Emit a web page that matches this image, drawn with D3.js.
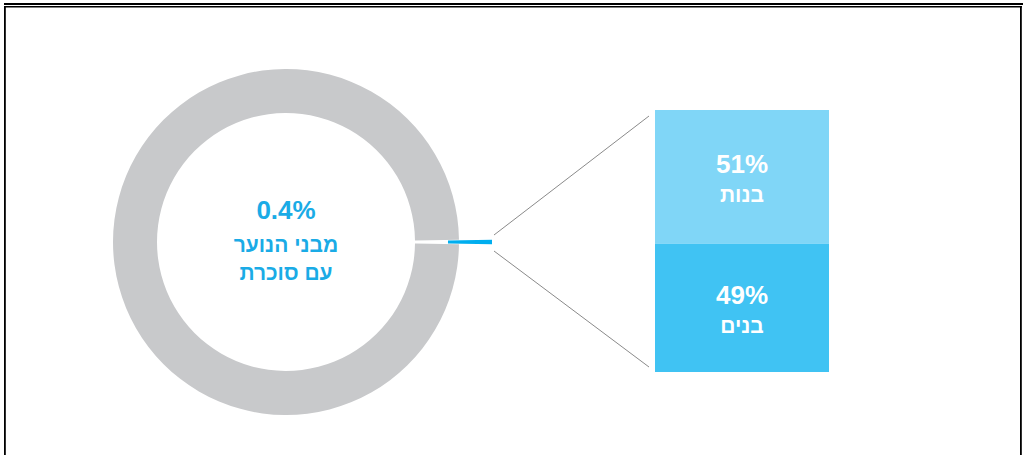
<!DOCTYPE html>
<html>
<head>
<meta charset="utf-8">
<script src="https://cdn.jsdelivr.net/npm/d3@7"></script>
<style>
  html, body { margin: 0; padding: 0; background: #fff; }
  svg { display: block; }
  text { font-family: "Liberation Sans", Arial, sans-serif; font-weight: bold; }
</style>
</head>
<body>
<svg id="chart" width="1023" height="455"></svg>
<script>
// ---- data ----
const donutCategories = ["עם סוכרת", "ללא סוכרת"];
const donutValues = [0.4, 99.6];
const centerLines = ["0.4%", "מבני הנוער", "עם סוכרת"];

const barCategories = ["בנות", "בנים"];
const barValues = [51, 49];
const barLabels = ["51%", "49%"];

// ---- layout ----
const svg = d3.select("#chart");
const W = 1023, H = 455;

// frame
svg.append("rect").attr("x", 4).attr("y", 3).attr("width", W - 4).attr("height", 2).attr("fill", "#000");
svg.append("rect").attr("x", 4).attr("y", 6).attr("width", 1018 - 0).attr("height", 1.5).attr("fill", "#000");
svg.append("rect").attr("x", 4).attr("y", 6).attr("width", 1.8).attr("height", H - 6).attr("fill", "#000");
svg.append("rect").attr("x", 1020).attr("y", 6).attr("width", 1.8).attr("height", H - 6).attr("fill", "#000");

// donut
const cx = 286, cy = 242, outerR = 173, innerR = 129, explode = 33;
const total = d3.sum(donutValues);
const half = Math.PI * 2 * donutValues[0] / total / 2;
const pie = d3.pie().sort(null).value(d => d)
  .startAngle(Math.PI / 2 - half).endAngle(Math.PI / 2 - half + Math.PI * 2);
const arcs = pie(donutValues);
const arc = d3.arc().innerRadius(innerR).outerRadius(outerR);
const colors = ["#00AEEF", "#C8C9CB"];

const g = svg.append("g").attr("transform", `translate(${cx},${cy})`);
g.selectAll("path").data(arcs).join("path")
  .attr("d", arc)
  .attr("fill", (d, i) => colors[i])
  .attr("transform", (d, i) => {
    if (i !== 0) return null;
    const a = (d.startAngle + d.endAngle) / 2;
    return `translate(${Math.sin(a) * explode},${-Math.cos(a) * explode})`;
  });

// center text
const centerText = g.append("g").attr("fill", "#1AABE6").attr("text-anchor", "middle");
centerText.append("text").attr("y", -23).attr("font-size", 26).text(centerLines[0]);
centerText.append("text").attr("y", 10).attr("font-size", 21).attr("direction", "rtl").attr("unicode-bidi", "embed").text(centerLines[1]);
centerText.append("text").attr("y", 38).attr("font-size", 21).attr("direction", "rtl").attr("unicode-bidi", "embed").text(centerLines[2]);

// stacked bar
const barX = 655, barW = 174, barTop = 110, barBottom = 372;
const y = d3.scaleLinear().domain([0, d3.sum(barValues)]).range([barTop, barBottom]);
const stacked = [];
let acc = 0;
barValues.forEach((v, i) => { stacked.push({ cat: barCategories[i], label: barLabels[i], v, y0: acc, y1: acc + v }); acc += v; });
const barColors = ["#80D6F7", "#40C3F3"];

const bars = svg.append("g");
bars.selectAll("rect").data(stacked).join("rect")
  .attr("x", barX).attr("width", barW)
  .attr("y", d => y(d.y0)).attr("height", d => y(d.y1) - y(d.y0))
  .attr("fill", (d, i) => barColors[i]);

const labels = bars.selectAll("g.lbl").data(stacked).join("g").attr("class", "lbl")
  .attr("transform", d => `translate(${barX + barW / 2},${(y(d.y0) + y(d.y1)) / 2})`)
  .attr("fill", "#fff").attr("text-anchor", "middle");
labels.append("text").attr("y", -4).attr("font-size", 26).text(d => d.label);
labels.append("text").attr("y", 25).attr("font-size", 21).attr("direction", "rtl").attr("unicode-bidi", "embed").text(d => d.cat);

// connector lines
const sx = cx + outerR + explode + 2;
svg.append("g").attr("stroke", "#8A8A8A").attr("stroke-width", 1)
  .selectAll("line").data([[cy - 7, barTop + 6], [cy + 9, barBottom - 5]]).join("line")
  .attr("x1", sx).attr("y1", d => d[0])
  .attr("x2", barX - 6).attr("y2", d => d[1]);
</script>
</body>
</html>
